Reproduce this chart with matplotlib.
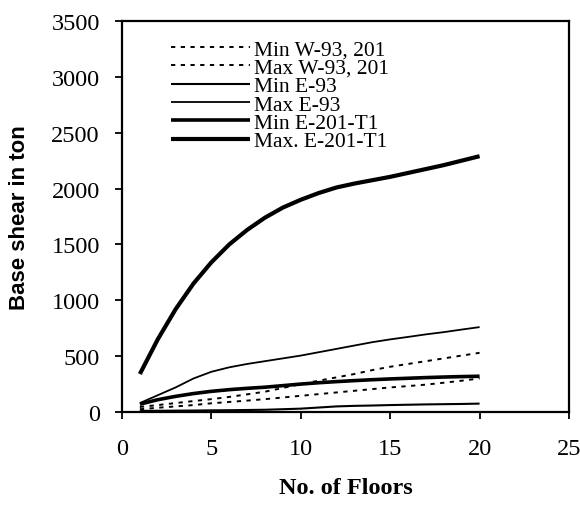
import matplotlib
matplotlib.use("Agg")
import matplotlib.pyplot as plt

floors = list(range(1, 21))

min_w93 = [25, 38, 50, 62, 78, 90, 102, 115, 130, 145, 160, 175, 190, 205, 220, 232, 245, 262, 280, 300]
max_w93 = [45, 62, 80, 98, 115, 135, 158, 182, 215, 250, 280, 310, 340, 375, 405, 430, 455, 480, 505, 530]
min_e93 = [10, 11, 12, 13, 15, 16, 18, 20, 25, 30, 40, 50, 55, 58, 62, 65, 68, 70, 72, 75]
max_e93 = [80, 150, 220, 300, 360, 400, 430, 455, 480, 505, 535, 565, 595, 625, 650, 672, 695, 715, 738, 760]
min_e201 = [70, 110, 140, 165, 185, 200, 212, 222, 236, 250, 262, 272, 281, 289, 296, 302, 308, 313, 317, 320]
max_e201 = [340, 650, 920, 1150, 1340, 1500, 1630, 1740, 1830, 1900, 1960, 2010, 2045, 2075, 2105, 2140, 2175, 2210, 2250, 2290]

labels = ["Min W-93, 201", "Max W-93, 201", "Min E-93", "Max E-93",
          "Min E-201-T1", "Max. E-201-T1"]
series = [min_w93, max_w93, min_e93, max_e93, min_e201, max_e201]

x_ticks = [0, 5, 10, 15, 20, 25]
y_ticks = [0, 500, 1000, 1500, 2000, 2500, 3000, 3500]

fig = plt.figure(figsize=(5.8, 5.06), dpi=100)
ax = fig.add_axes([0.2103, 0.1838, 0.7707, 0.7727])

styles = [
    dict(color="black", lw=1.4, ls=(0, (2.2, 2.8))),
    dict(color="black", lw=1.4, ls=(0, (2.2, 2.8))),
    dict(color="black", lw=1.5, ls="-"),
    dict(color="black", lw=1.3, ls="-"),
    dict(color="black", lw=2.6, ls="-"),
    dict(color="black", lw=3.0, ls="-"),
]
for ys, lab, st in zip(series, labels, styles):
    ax.plot(floors, ys, label=lab, solid_capstyle="butt", **st)

ax.set_xlim(0, 25)
ax.set_ylim(0, 3500)
ax.set_xticks(x_ticks)
ax.set_yticks(y_ticks)
serif = ["Liberation Serif", "DejaVu Serif"]
ax.set_xticklabels([str(v) for v in x_ticks], fontfamily=serif, fontsize=17.5)
ax.set_yticklabels([str(v) for v in y_ticks], fontfamily=serif, fontsize=17.5)
ax.tick_params(direction="out", length=5, width=1.3, colors="black")
ax.tick_params(axis="x", pad=14)
ax.tick_params(axis="y", pad=11)
for s in ax.spines.values():
    s.set_linewidth(1.6)
    s.set_color("black")

ax.set_xlabel("No. of Floors", fontfamily=serif, fontweight="bold",
              fontsize=17.5, labelpad=13)
ax.set_ylabel("Base shear in ton", fontfamily=["Liberation Sans", "DejaVu Sans"],
              fontweight="bold", fontsize=16, labelpad=15)

leg = ax.legend(loc="upper left", bbox_to_anchor=(0.09, 0.975), frameon=False,
                prop={"family": serif, "size": 15.5}, handlelength=3.7,
                handletextpad=0.15, labelspacing=-0.08, borderaxespad=0)

fig.savefig("out.png", dpi=100)
